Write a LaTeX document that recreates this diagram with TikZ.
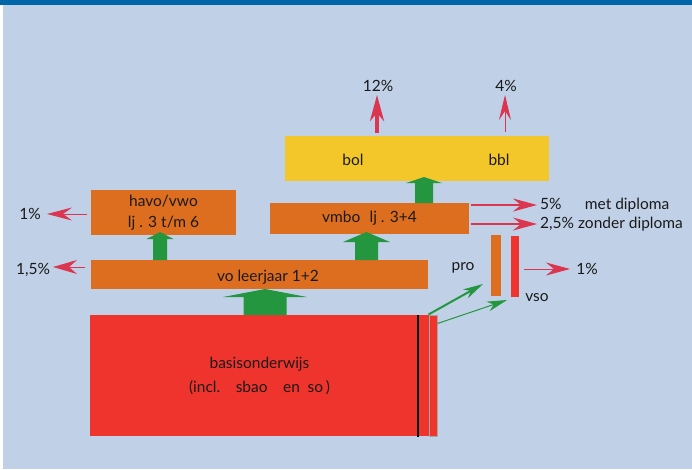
\documentclass[tikz,border=0pt]{standalone}
\usepackage{fontspec}
\setmainfont{Lato}
\usetikzlibrary{arrows.meta}
\definecolor{bgblue}{HTML}{C0D1E7}
\definecolor{stripblue}{HTML}{0066A8}
\definecolor{boxorange}{HTML}{DD6D1F}
\definecolor{boxyellow}{HTML}{F3C72A}
\definecolor{boxred}{HTML}{EF342D}
\definecolor{arrgreen}{HTML}{23963F}
\definecolor{arrred}{HTML}{DC3550}
\definecolor{txt}{HTML}{1A1A1A}
\newcommand\blockup[6]{% x, tip y, head base y, bottom y, shaft half, head half
  \fill[arrgreen] (#1-#5,#4) -- (#1-#5,#3) -- (#1-#6,#3) -- (#1,#2) -- (#1+#6,#3) -- (#1+#5,#3) -- (#1+#5,#4) -- cycle;}
\begin{document}
\begin{tikzpicture}[x=1pt,y=-1pt,
  box/.style={inner sep=0pt, outer sep=0pt, text=txt, font=\fontsize{15.5}{21}\selectfont, align=center},
  lbl/.style={inner sep=0pt, text=txt, font=\fontsize{15.5}{17}\selectfont},
  redarr/.style={draw=arrred, line width=1.2pt, -{Stealth[length=25pt,width=13pt,inset=9pt]}},
  greenarr/.style={draw=arrgreen, line width=2pt, -{Stealth[length=20pt,width=10pt,inset=6pt]}}
]
\useasboundingbox (0,0) rectangle (692,469);
\fill[white] (0,0) rectangle (692,469);
\fill[bgblue] (3,4) rectangle (692,469);
\fill[stripblue] (0,0) rectangle (692,4.5);

% boxes
\node[box, fill=boxorange, minimum width=145pt, minimum height=45pt] (havo) at (163.5,212.5) {havo/vwo\\lj . 3 t/m 6};
\node[box, fill=boxorange, minimum width=337pt, minimum height=29pt] (vo) at (259.5,274.5) {};
\node[lbl] (votxt) at (268,277) {vo leerjaar 1+2};
\node[box, fill=boxorange, minimum width=199pt, minimum height=31pt] (vmbo) at (369.5,218.5) {vmbo\hspace{0.6em}lj . 3+4};
\node[box, fill=boxyellow, minimum width=264pt, minimum height=45pt] (bolbbl) at (417,158.5) {};
\node[lbl] (bol) at (353,160) {bol};
\node[lbl] (bbl) at (499,160) {bbl};
\node[box, fill=boxred, minimum width=339pt, minimum height=121pt] (basis) at (259.5,375.5) {basisonderwijs\\[3pt](incl.\hspace{1em}sbao\hspace{1em}en\hspace{0.5em}so\,)};
\draw[black, line width=1.2pt] (418,315) -- (418,437);
\node[draw=gray!70, line width=1pt, fill=boxred, inner sep=0pt, minimum width=8pt, minimum height=121pt] (basisx) at (433,375.5) {};
\node[fill=boxorange, inner sep=0pt, minimum width=10pt, minimum height=61pt] (pro) at (496,265.5) {};
\node[fill=boxred, inner sep=0pt, minimum width=8pt, minimum height=61pt] (vso) at (515,266.5) {};

% block arrows
\blockup{160}{232}{239}{260}{7}{13.5}
\blockup{366.5}{232}{242}{260}{11.5}{23.5}
\blockup{424}{177}{183}{203}{9}{18}
\blockup{265}{289}{297}{315}{21.5}{42}

% labels
\node[lbl] (p12) at (378,86) {12\%};
\node[lbl] (p4) at (506,86) {4\%};
\node[lbl] (p1l) at (30,214) {1\%};
\node[lbl] (p15) at (33,270) {1,5\%};
\node[lbl, anchor=west] (p5) at (540,205) {5\%\hspace{1.5em}met diploma};
\node[lbl, anchor=west] (p25) at (540,224) {2,5\% zonder diploma};
\node[lbl] (prol) at (463,268) {pro};
\node[lbl] (vsol) at (537,298) {vso};
\node[lbl] (p1r) at (587,269) {1\%};

% arrow endpoints
\coordinate (t12) at (377,95);
\coordinate (t4) at (505,95);
\coordinate (t1l) at (47,214);
\coordinate (t15) at (53,267);
\coordinate (t5) at (537,205);
\coordinate (t25) at (537,224);
\coordinate (t1r) at (570,269);
\coordinate (tpro) at (483,284);
\coordinate (tvso) at (507,300);

% red arrows
\draw[redarr, line width=4pt, -{Stealth[length=26pt,width=14pt,inset=8pt]}] (377,133) -- (t12);
\draw[redarr, line width=1pt, -{Stealth[length=25pt,width=12pt,inset=9pt]}] (505,132) -- (t4);
\draw[redarr, line width=1pt] (havo.west) ++(-4,1.5) -- (t1l);
\draw[redarr, line width=1pt, -{Stealth[length=24pt,width=14pt,inset=8pt]}] (vo.west) ++(-6,-7.5) -- (t15);
\draw[redarr, line width=2pt, -{Stealth[length=24pt,width=13pt,inset=8pt]}] (vmbo.east) ++(2,-13.5) -- (t5);
\draw[redarr, line width=1.3pt, -{Stealth[length=24pt,width=13pt,inset=8pt]}] (vmbo.east) ++(2,5.5) -- (t25);
\draw[redarr, line width=1pt, -{Stealth[length=24pt,width=13pt,inset=8pt]}] (vso.east) ++(5,2.5) -- (t1r);

% green thin arrows
\draw[greenarr] (basisx.north west) -- (tpro);
\draw[greenarr, line width=1pt] (basisx.north east) ++(0,9) -- (tvso);
\end{tikzpicture}
\end{document}
